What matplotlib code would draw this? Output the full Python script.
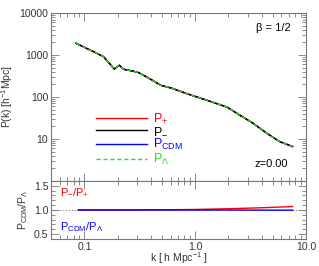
import matplotlib
matplotlib.use("Agg")
import matplotlib.pyplot as plt
from matplotlib.ticker import LogLocator, MultipleLocator, NullFormatter

plt.rcParams['font.family'] = ['Liberation Sans', 'DejaVu Sans']
plt.rcParams['mathtext.fontset'] = 'custom'
plt.rcParams['mathtext.rm'] = 'Liberation Sans'
plt.rcParams['mathtext.it'] = 'Liberation Sans:italic'

# power spectrum
k = [0.084, 0.116, 0.149, 0.186, 0.207, 0.226, 0.279, 0.310, 0.382, 0.407,
     0.488, 0.618, 0.823, 1.25, 1.95, 2.51, 3.30, 4.39, 5.80, 7.57]
pk = [1900, 1265, 912, 464, 569, 457, 409, 379, 279, 254,
      190, 161, 122, 85, 57, 37.3, 24, 13.9, 8.6, 6.6]

# ratios in the lower panel
kr = [0.088, 0.2, 0.5, 1.0, 2.0, 4.0, 7.6]
ratio_pm = [1.0, 1.0, 1.003, 1.01, 1.025, 1.045, 1.07]
ratio_cdm = [1.0, 1.0, 1.0, 0.999, 0.998, 0.996, 0.995]

grey = '#777777'
txt = '#333333'
fs = 7.5

fig = plt.figure(figsize=(3.19, 2.66), dpi=100)
ax = fig.add_axes([0.160, 0.320, 0.799, 0.631])
ax2 = fig.add_axes([0.160, 0.1015, 0.799, 0.2185])

ax.plot(k, pk, color='red', lw=1.0, label=r'P$_{+}$')
ax.plot(k, pk, color='blue', lw=1.0, label=r'P$_{\mathrm{CDM}}$', zorder=1)
ax.plot(k, pk, color='black', lw=1.0, label=r'P$_{-}$')
ax.plot(k, pk, color='#22dd22', lw=1.0, ls=(0, (3, 2)), label=r'P$_{\mathrm{Λ}}$')

h, l = ax.get_legend_handles_labels()
order = [0, 2, 1, 3]
leg = ax.legend([h[i] for i in order], [l[i] for i in order], loc='upper left',
                bbox_to_anchor=(0.175, 0.41), frameon=False, fontsize=9,
                handlelength=4.1, handletextpad=0.5, labelspacing=0.0,
                borderpad=0, borderaxespad=0, labelcolor='linecolor')

ax.set_xscale('log')
ax.set_yscale('log')
ax.set_xlim(0.05, 10)
ax.set_ylim(1, 10000)
ax.set_yticks([10, 100, 1000, 10000])
ax.set_yticklabels(['10', '100', '1000', '10000'])
ax.yaxis.set_minor_locator(LogLocator(base=10, subs=range(2, 10)))
ax.yaxis.set_minor_formatter(NullFormatter())
ax.xaxis.set_major_formatter(NullFormatter())
ax.xaxis.set_minor_formatter(NullFormatter())
ax.set_ylabel(r'P(k) [h$^{-1}$Mpc]', fontsize=fs, color=txt, labelpad=3)
ax.text(0.94, 0.91, 'β = 1/2', transform=ax.transAxes, ha='right', va='center',
        fontsize=8, color='black')
ax.text(0.93, 0.10, 'z=0.00', transform=ax.transAxes, ha='right', va='center',
        fontsize=8, color='black')

ax2.axhline(1.0, color=grey, lw=0.8, ls=':')
ax2.plot(kr, ratio_pm, color='red', lw=1.0)
ax2.plot(kr, ratio_cdm, color='blue', lw=1.0)
ax2.set_xscale('log')
ax2.set_xlim(0.05, 10)
ax2.set_ylim(0.4, 1.6)
ax2.set_yticks([0.5, 1.0, 1.5])
ax2.set_yticklabels(['0.5', '1.0', '1.5'])
ax2.yaxis.set_minor_locator(MultipleLocator(0.1))
ax2.set_xticks([0.1, 1.0, 10.0])
ax2.set_xticklabels(['0.1', '1.0', '10.0'])
ax2.xaxis.set_minor_formatter(NullFormatter())
ax2.set_ylabel(r'P$_{\mathrm{CDM}}$/P$_{\mathrm{Λ}}$', fontsize=fs, color=txt, labelpad=3)
ax2.set_xlabel(r'k [ h Mpc$^{-1}$ ]', fontsize=fs, color=txt, labelpad=-1)
ax2.text(0.035, 0.80, r'P$_{-}$/P$_{+}$', transform=ax2.transAxes, color='red',
         fontsize=8, va='center')
ax2.text(0.035, 0.20, r'P$_{\mathrm{CDM}}$/P$_{\mathrm{Λ}}$', transform=ax2.transAxes,
         color='blue', fontsize=8, va='center')

for a in (ax, ax2):
    for s in a.spines.values():
        s.set_color(grey)
        s.set_linewidth(0.8)
    a.tick_params(which='both', direction='in', top=True, right=True,
                  color=grey, labelcolor=txt, labelsize=fs, width=0.6)
    a.tick_params(which='major', length=6, pad=2)
    a.tick_params(which='minor', length=3)

fig.savefig('out.png', dpi=100)
